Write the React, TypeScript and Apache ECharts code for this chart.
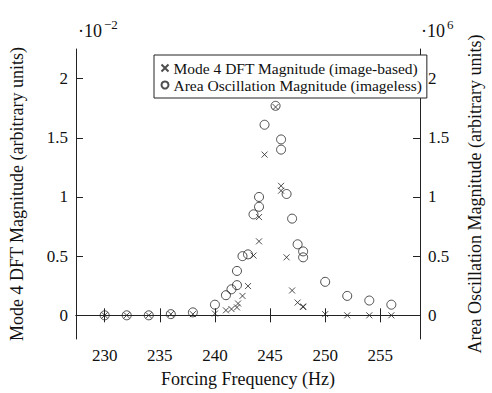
import React, { useEffect, useRef } from "react";
import * as echarts from "echarts";

// Mode 4 DFT magnitude (image-based), left axis, units of 1e-2
const crossFreq = [230, 232, 234, 236, 238, 240, 241, 241.5, 242, 242.1, 242.5, 243, 243.5, 244, 244, 244.5, 245.5, 246, 246, 246.5, 247, 247.5, 248, 248, 250, 252, 254, 256];
const crossMag = [0.0, 0.0, 0.0, 0.01, 0.01, 0.015, 0.042, 0.053, 0.067, 0.1, 0.164, 0.247, 0.505, 0.83, 0.625, 1.358, 1.76, 1.094, 1.053, 0.49, 0.21, 0.108, 0.075, 0.07, 0.01, 0.0, 0.0, 0.0];

// Area oscillation magnitude (imageless), right axis, units of 1e6
const circleFreq = [230, 232, 234, 236, 238, 240, 241, 241.5, 242, 242, 242.5, 243, 243.5, 244, 244, 244.5, 245.5, 246, 246, 246.5, 247, 247.5, 248, 248, 250, 252, 254, 256];
const circleMag = [0.0, 0.0, 0.0, 0.01, 0.025, 0.09, 0.17, 0.22, 0.255, 0.375, 0.5, 0.515, 0.853, 1.0, 0.917, 1.61, 1.77, 1.486, 1.4, 1.025, 0.817, 0.6, 0.54, 0.49, 0.283, 0.164, 0.125, 0.09];

const xTicks = [230, 235, 240, 245, 250, 255];
const yTicks = [0, 0.5, 1, 1.5, 2];

const crossName = "Mode 4 DFT Magnitude (image-based)";
const circleName = "Area Oscillation Magnitude (imageless)";
const xName = "Forcing Frequency (Hz)";
const leftName = "Mode 4 DFT Magnitude (arbitrary units)";
const rightName = "Area Oscillation Magnitude (arbitrary units)";
const leftExp = "\u22122";
const rightExp = "6";

const FONT = "Liberation Serif";
const INK = "#222";
const TXT = "#111";
const crossPath = "path://M0,0L10,10M10,0L0,10";

export default function App() {
  const ref = useRef<HTMLDivElement>(null);
  useEffect(() => {
    if (!ref.current) return;
    const chart = echarts.init(ref.current, undefined, { renderer: "svg" });
    const axisCommon = {
      axisLine: { show: true, lineStyle: { color: INK, width: 1 } },
      splitLine: { show: false },
    };
    const tick = (vals: number[]) => ({ show: true, inside: true, length: 7, customValues: vals, lineStyle: { color: INK } });
    const label = (vals: number[]) => ({ customValues: vals, margin: 8, fontFamily: FONT, fontSize: 17, color: TXT });
    chart.setOption({
      animation: false,
      backgroundColor: "#fff",
      grid: { left: 74, right: 63, top: 49, bottom: 50, containLabel: false },
      legend: {
        orient: "vertical",
        left: 154,
        top: 55,
        data: [
          { name: crossName, icon: crossPath },
          { name: circleName, icon: "circle" },
        ],
        itemWidth: 7,
        itemHeight: 7,
        itemGap: 1,
        padding: [5, 5, 5, 5],
        borderColor: INK,
        borderWidth: 1,
        backgroundColor: "#fff",
        textStyle: { fontFamily: FONT, fontSize: 15.5, color: TXT },
      },
      xAxis: [
        {
          type: "value",
          position: "bottom",
          min: 227.4,
          max: 258.6,
          ...axisCommon,
          axisTick: tick(xTicks),
          axisLabel: label(xTicks),
          name: xName,
          nameLocation: "middle",
          nameGap: 31,
          nameTextStyle: { fontFamily: FONT, fontSize: 18, color: TXT },
        },
        {
          type: "value",
          position: "top",
          min: 227.4,
          max: 258.6,
          ...axisCommon,
          axisTick: tick(xTicks),
          axisLabel: { show: false },
        },
      ],
      yAxis: [
        {
          type: "value",
          position: "left",
          min: -0.2,
          max: 2.25,
          ...axisCommon,
          axisTick: tick(yTicks),
          axisLabel: label(yTicks),
          name: leftName,
          nameLocation: "middle",
          nameRotate: 90,
          nameGap: 50,
          nameTextStyle: { fontFamily: FONT, fontSize: 18, color: TXT },
        },
        {
          type: "value",
          position: "right",
          min: -0.2,
          max: 2.25,
          ...axisCommon,
          axisTick: tick(yTicks),
          axisLabel: label(yTicks),
          name: rightName,
          nameLocation: "middle",
          nameRotate: 90,
          nameGap: 46,
          nameTextStyle: { fontFamily: FONT, fontSize: 18, color: TXT },
        },
      ],
      series: [
        {
          name: crossName,
          type: "scatter",
          xAxisIndex: 0,
          yAxisIndex: 0,
          symbol: crossPath,
          symbolSize: 6,
          itemStyle: { color: "none", borderColor: INK, borderWidth: 1 },
          data: crossFreq.map((f, i) => [f, crossMag[i]]),
        },
        {
          name: circleName,
          type: "scatter",
          xAxisIndex: 0,
          yAxisIndex: 1,
          symbol: "circle",
          symbolSize: 9,
          itemStyle: { color: "none", borderColor: INK, borderWidth: 1 },
          data: circleFreq.map((f, i) => [f, circleMag[i]]),
        },
      ],
      graphic: [
        { type: "text", left: 78, top: 22, style: { text: "\u00b710", fontFamily: FONT, fontSize: 18, fill: TXT } },
        { type: "text", left: 104, top: 18, style: { text: leftExp, fontFamily: FONT, fontSize: 13, fill: TXT } },
        { type: "text", left: 421, top: 22, style: { text: "\u00b710", fontFamily: FONT, fontSize: 18, fill: TXT } },
        { type: "text", left: 447, top: 18, style: { text: rightExp, fontFamily: FONT, fontSize: 13, fill: TXT } },
      ],
    });
    return () => chart.dispose();
  }, []);
  return <div ref={ref} style={{ position: "fixed", left: 0, top: 0, width: 492, height: 393 }} />;
}
